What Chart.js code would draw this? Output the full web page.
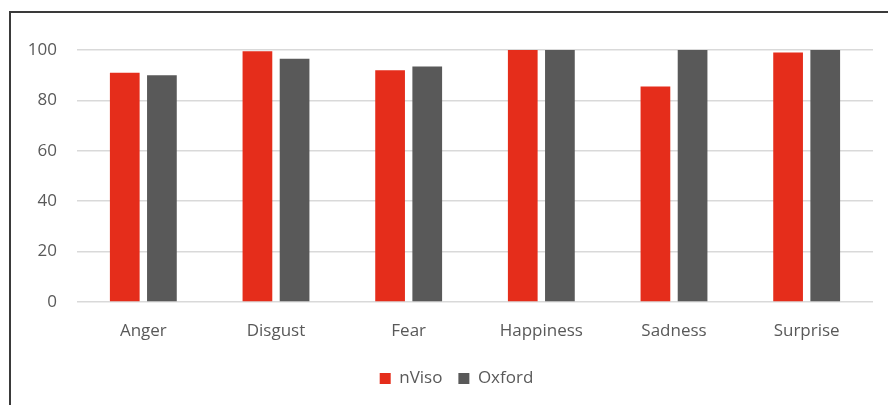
<!DOCTYPE html>
<html>
<head>
<meta charset="utf-8">
<script src="https://cdn.jsdelivr.net/npm/chart.js@4"></script>
<style>
  html, body { margin: 0; padding: 0; background: #fff; }
  body { width: 888px; height: 405px; overflow: hidden; position: relative; }
  #frame {
    position: absolute; left: 9px; top: 11px;
    width: 900px; height: 420px;
    border: 2px solid #3a3a3a;
  }
  #wrap { position: absolute; left: 0; top: 0; width: 888px; height: 405px; }
</style>
</head>
<body>
<div id="frame"></div>
<div id="wrap"><canvas id="chart"></canvas></div>
<script>
// emotion categories and recognition scores (%)
const categories = ['Anger', 'Disgust', 'Fear', 'Happiness', 'Sadness', 'Surprise'];
const nvisoValues = [91, 99.5, 92, 100, 85.5, 99];
const oxfordValues = [90, 96.5, 93.5, 100, 100, 100];
const yTicks = [0, 20, 40, 60, 80, 100];

const textColor = '#595959';
const fontFamily = '"Open Sans", "DejaVu Sans", sans-serif';

// nudge the legend a bit to the right, like the original
const legendShift = {
  id: 'legendShift',
  afterLayout(chart) {
    if (chart.legend) {
      chart.legend.left += 20;
      chart.legend.right += 20;
    }
  }
};

const ctx = document.getElementById('chart').getContext('2d');

const chart = new Chart(ctx, {
  type: 'bar',
  data: {
    labels: categories,
    datasets: [
      {
        label: 'nViso',
        data: nvisoValues,
        backgroundColor: '#E52D1B',
        categoryPercentage: 0.56,
        barPercentage: 0.8
      },
      {
        label: 'Oxford',
        data: oxfordValues,
        backgroundColor: '#595959',
        categoryPercentage: 0.56,
        barPercentage: 0.8
      }
    ]
  },
  options: {
    responsive: true,
    maintainAspectRatio: false,
    animation: false,
    layout: {
      padding: { top: 50, right: 15, bottom: 8, left: 0 }
    },
    scales: {
      x: {
        grid: { display: false, drawTicks: false },
        border: { display: false },
        ticks: {
          color: textColor,
          font: { family: fontFamily, size: 17 },
          padding: 19
        },
        afterFit: scale => { scale.height = 52; }
      },
      y: {
        min: 0,
        max: 100,
        afterBuildTicks: scale => {
          scale.ticks = yTicks.map(v => ({ value: v }));
        },
        grid: { color: '#D9D9D9', lineWidth: 1.5, drawTicks: false },
        border: { display: false },
        ticks: {
          color: textColor,
          font: { family: fontFamily, size: 17 },
          padding: 20
        },
        afterFit: scale => { scale.width = 77; }
      }
    },
    plugins: {
      legend: {
        position: 'bottom',
        labels: {
          color: textColor,
          font: { family: fontFamily, size: 17 },
          boxWidth: 11,
          boxHeight: 11,
          padding: 16
        }
      },
      tooltip: { enabled: false }
    }
  },
  plugins: [legendShift]
});
</script>
</body>
</html>
